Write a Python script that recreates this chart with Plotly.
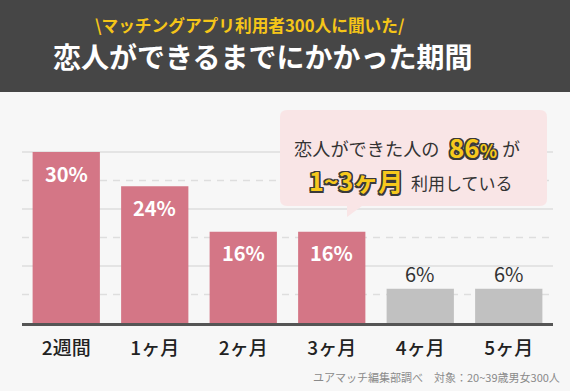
import plotly.graph_objects as go

# ---- data ----
categories = ["2週間", "1ヶ月", "2ヶ月", "3ヶ月", "4ヶ月", "5ヶ月"]
values = [30, 24, 16, 16, 6, 6]
highlight = [True, True, True, True, False, False]
grid_solid = [10, 20, 30]
grid_dashed = [5, 15, 25]
subtitle = "\\マッチングアプリ利用者300人に聞いた/"
title = "恋人ができるまでにかかった期間"
source_note = "ユアマッチ編集部調べ　対象：20~39歳男女300人"

# ---- layout geometry (pixels) ----
W, H = 570, 391
L, R, T, B = 22, 553, 110, 323
PW, PH = R - L, B - T
YMAX = PH / 5.7

def px(x):
    return (x - L) / PW

def py(y):
    return (B - y) / PH

PINK = "#d47686"
GRAY = "#c1c1c1"
JP = "Noto Sans CJK JP"

colors = [PINK if h else GRAY for h in highlight]

fig = go.Figure()
fig.add_trace(go.Bar(x=categories, y=values, marker=dict(color=colors, line=dict(width=0)),
                     width=0.76, hoverinfo="skip"))

shapes = []
# header band
shapes.append(dict(type="rect", xref="paper", yref="paper", x0=px(0), x1=px(W), y0=py(92), y1=py(0),
                   fillcolor="#464646", line=dict(width=0), layer="below"))
# gridlines
for g in grid_solid:
    shapes.append(dict(type="line", xref="paper", yref="y", x0=0, x1=1, y0=g, y1=g,
                       line=dict(color="#dedede", width=1.5), layer="below"))
for g in grid_dashed:
    shapes.append(dict(type="line", xref="paper", yref="y", x0=0, x1=1, y0=g, y1=g,
                       line=dict(color="#dedede", width=1.5, dash="7px,6px"), layer="below"))

# callout box (rounded)
bx0, bx1, by0, by1, r = 280, 547, 110, 206, 7
def P(x, y):
    return f"{px(x):.5f},{py(y):.5f}"
path = (f"M {P(bx0 + r, by0)} L {P(bx1 - r, by0)} Q {P(bx1, by0)} {P(bx1, by0 + r)} "
        f"L {P(bx1, by1 - r)} Q {P(bx1, by1)} {P(bx1 - r, by1)} "
        f"L {P(362, by1)} L {P(347, 217)} L {P(347, by1)} "
        f"L {P(bx0 + r, by1)} Q {P(bx0, by1)} {P(bx0, by1 - r)} "
        f"L {P(bx0, by0 + r)} Q {P(bx0, by0)} {P(bx0 + r, by0)} Z")
shapes.append(dict(type="path", xref="paper", yref="paper", path=path,
                   fillcolor="#f9e5e6", line=dict(width=0), layer="above"))

annotations = []

def note(text, x, y, size, color, xanchor="center", shadow=None, weight=None):
    f = dict(family=JP, size=size, color=color)
    if shadow:
        f["shadow"] = shadow
    if weight:
        f["weight"] = weight
    annotations.append(dict(text=text, xref="paper", yref="paper", x=px(x), y=py(y),
                            xanchor=xanchor, yanchor="middle", showarrow=False, font=f))

# header texts
note(subtitle, 249, 25, 16.7, "#f5c518", weight="bold")
note(title, 262, 56, 28, "white", weight="bold")

# bar value labels
for c, v, h in zip(categories, values, highlight):
    if h:
        annotations.append(dict(text=f"{v}%", x=c, y=v, xref="x", yref="y", showarrow=False,
                                yanchor="middle", yshift=-21,
                                font=dict(family=JP, size=20, color="white", weight=600)))
    else:
        annotations.append(dict(text=f"{v}%", x=c, y=v, xref="x", yref="y", showarrow=False,
                                yanchor="middle", yshift=15, font=dict(family=JP, size=20, color="#333333")))

oc = "#3a3a3a"
outline = ", ".join(f"{dx}px {dy}px 0 {oc}" for dx, dy in
                    [(1.5, 1.5), (-1.5, -1.5), (1.5, -1.5), (-1.5, 1.5), (0, 1.5), (0, -1.5), (1.5, 0), (-1.5, 0)])
dark = "#333333"
YEL = "#f7c91c"
# callout line 1
note("恋人ができた人の", 292, 148, 18.2, dark, "left")
note('86<span style="font-size:18px">%</span>', 447, 146, 26, YEL, "left", outline, "bold")
note("が", 500, 148, 18, dark, "left")
# callout line 2
note("1~3ヶ月", 307, 180, 25, YEL, "left", outline, "bold")
note("利用している", 409, 182, 17, dark, "left")
# source note
note(source_note, 562, 377, 11, "#8a8a8a", "right")

fig.update_layout(
    width=W, height=H,
    margin=dict(l=L, r=W - R, t=T, b=H - B, pad=0),
    paper_bgcolor="#f7f7f7", plot_bgcolor="#f7f7f7",
    showlegend=False, shapes=shapes, annotations=annotations,
    bargap=0.24,
    xaxis=dict(showline=True, linecolor="#555555", linewidth=2.5, showgrid=False, zeroline=False,
               ticks="", tickfont=dict(family=JP, size=19, color="#222222", weight=500),
               ticklabelstandoff=6, fixedrange=True),
    yaxis=dict(range=[0, YMAX], showgrid=False, zeroline=False, showticklabels=False,
               fixedrange=True),
)

fig.write_html("out.html", config={"displayModeBar": False},
               post_script="document.body.style.margin='0';")
